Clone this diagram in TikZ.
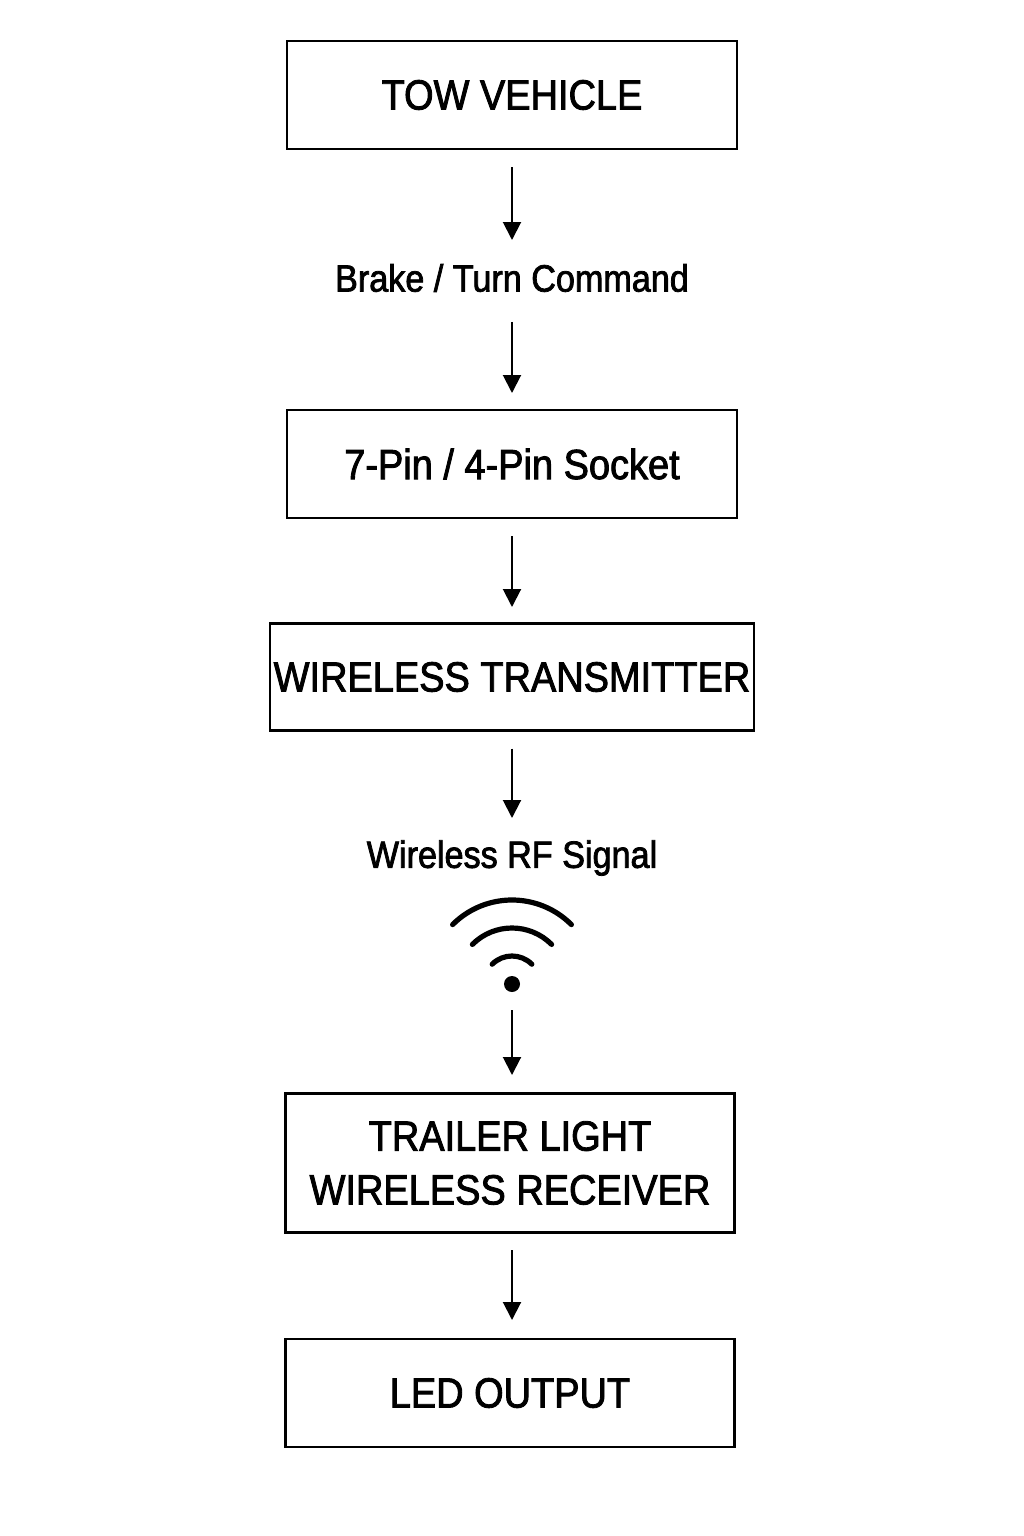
\documentclass[tikz,border=0pt]{standalone}
\usepackage{fontspec}
\setmainfont{Liberation Sans}[FakeStretch=0.9, FakeBold=2]
\usetikzlibrary{arrows.meta}
\tikzset{
  blk/.style={draw, line width=0.55mm, minimum height=27mm, text centered,
    font=\fontsize{30}{34}\selectfont, align=center, inner xsep=1mm},
  lbl/.style={font=\fontsize{27}{31}\selectfont},
  flow/.style={-{Triangle[length=4.5mm,width=4.5mm]}, line width=0.5mm}
}
\begin{document}
\begin{tikzpicture}[x=0.25mm,y=-0.25mm]
  \useasboundingbox (0,0) rectangle (1024,1536);
  % boxes and labels
  \node [blk, minimum width=112.5mm] (tow) at (512,95) {TOW VEHICLE};
  \node [lbl] (cmd) at (512,278) {Brake / Turn Command};
  \node [blk, minimum width=112.5mm] (sock) at (512,464) {7-Pin / 4-Pin Socket};
  \node [blk, minimum width=118.5mm, minimum height=26.75mm] (tx) at (512,677) {WIRELESS TRANSMITTER};
  \node [lbl] (rf) at (512,858) {Wireless RF Signal};
  \node [blk, minimum width=112.25mm, minimum height=34.75mm] (rx) at (510,1163)
    {TRAILER LIGHT\\[1.5mm]WIRELESS RECEIVER};
  \node [blk, minimum width=112.25mm] (led) at (510,1393) {LED OUTPUT};
  % wifi symbol
  \coordinate (wifi) at (512,984);
  \fill (wifi) circle (8);
  \foreach \r in {28,56,84}
    \draw [line width=1.3mm, line cap=round] (wifi) ++(-45:\r) arc (-45:-135:\r);
  \coordinate (wbot) at (512,1010);
  % arrows
  \draw [flow] (512,167) -- (512,240);
  \draw [flow] (cmd.south) ++(0,25) -- (512,393);
  \draw [flow] (sock.south) ++(0,17) -- (512,607);
  \draw [flow] (tx.south) ++(0,17) -- (512,818);
  \draw [flow] (wbot) -- (512,1075);
  \draw [flow] (512,1250) -- (512,1320);
\end{tikzpicture}
\end{document}
